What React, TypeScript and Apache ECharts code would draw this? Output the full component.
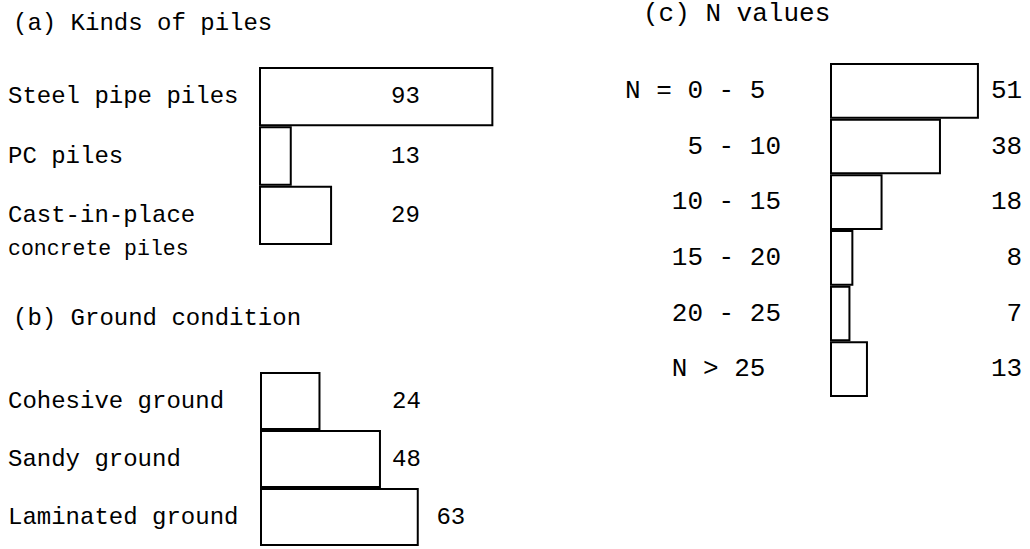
import React, { useEffect, useRef } from "react";
import * as echarts from "echarts";

const titles = ["(a) Kinds of piles", "(b) Ground condition", "(c) N values"];
const pileKinds = ["Steel pipe piles", "PC piles", "Cast-in-place\nconcrete piles"];
const pileCounts = [93, 13, 29];
const groundKinds = ["Cohesive ground", "Sandy ground", "Laminated ground"];
const groundCounts = [24, 48, 63];
const nRanges = ["N = 0 - 5", "5 - 10", "10 - 15", "15 - 20", "20 - 25", "N > 25"];
const nCounts = [51, 38, 18, 8, 7, 13];

const MONO = '"Liberation Mono", "Courier New", monospace';

export default function App() {
  const ref = useRef<HTMLDivElement>(null);

  useEffect(() => {
    if (!ref.current) return;
    const chart = echarts.init(ref.current, null, { renderer: "svg" });

    const labelColAB = 52.4;
    const labelColC = 65.8;
    const dashCol = nRanges[0].indexOf(" - ");

    const barSeries = (idx: number, data: number[]) => ({
      type: "bar",
      xAxisIndex: idx,
      yAxisIndex: idx,
      data,
      barWidth: "100%",
      itemStyle: { color: "#fff", borderColor: "#000", borderWidth: 2 },
      silent: true,
    });

    const labelSeries = (
      idx: number,
      data: number[],
      xOf: (v: number) => number,
      pos: string,
      fontSize: number
    ) => ({
      type: "scatter",
      xAxisIndex: idx,
      yAxisIndex: idx,
      symbolSize: 0,
      clip: false,
      silent: true,
      itemStyle: { opacity: 1 },
      data: data.map((v, i) => [xOf(v), i, v]),
      label: {
        show: true,
        position: pos,
        distance: 0,
        formatter: (p: any) => String(p.value[2]),
        fontFamily: MONO,
        fontSize,
        color: "#000",
        opacity: 1,
      },
    });

    const catAxis = (idx: number, data: string[], margin: number, fontSize: number, extra: any = {}) => ({
      type: "category",
      gridIndex: idx,
      data,
      inverse: true,
      axisLine: { show: false },
      axisTick: { show: false },
      splitLine: { show: false },
      axisLabel: {
        align: "left",
        margin,
        fontFamily: MONO,
        fontSize,
        color: "#000",
        ...extra,
      },
    });

    const valAxis = (idx: number, max: number) => ({
      type: "value",
      gridIndex: idx,
      min: 0,
      max,
      show: false,
    });

    chart.setOption({
      animation: false,
      backgroundColor: "#fff",
      title: [
        { text: titles[0], left: 8, top: 6, textStyle: { fontFamily: MONO, fontSize: 24, fontWeight: "normal", color: "#000" } },
        { text: titles[1], left: 8, top: 301, textStyle: { fontFamily: MONO, fontSize: 24, fontWeight: "normal", color: "#000" } },
        { text: titles[2], left: 638, top: -4, textStyle: { fontFamily: MONO, fontSize: 26, fontWeight: "normal", color: "#000" } },
      ],
      grid: [
        { left: 259, top: 67, width: 252, height: 178 },
        { left: 260, top: 372, width: 252, height: 174 },
        { left: 830, top: 63, width: 175.2, height: 334 },
      ],
      xAxis: [valAxis(0, 100), valAxis(1, 100), valAxis(2, 60)],
      yAxis: [
        catAxis(0, pileKinds, 251, 24, {
          formatter: (v: string) => {
            if (!v.includes("\n")) return v;
            const [l1, l2] = v.split("\n");
            return `{s| }\n{a|${l1}}\n{b|${l2}}`;
          },
          rich: {
            s: { lineHeight: 34, fontSize: 24, fontFamily: MONO },
            a: { lineHeight: 34, fontSize: 24, fontFamily: MONO, color: "#000" },
            b: { lineHeight: 34, fontSize: 21.5, fontFamily: MONO, color: "#000" },
          },
        }),
        catAxis(1, groundKinds, 252, 24),
        catAxis(2, nRanges, 205, 26, {
          formatter: (v: string) => {
            const i = v.indexOf(" - ");
            const pad = i >= 0 ? dashCol - i : dashCol - 2;
            return "\u00a0".repeat(Math.max(0, pad)) + v;
          },
        }),
      ],
      series: [
        barSeries(0, pileCounts),
        barSeries(1, groundCounts),
        barSeries(2, nCounts),
        labelSeries(0, pileCounts, () => labelColAB, "right", 24),
        labelSeries(
          1,
          groundCounts,
          (v) => (v + 4 > labelColAB ? v + 7 : labelColAB),
          "right",
          24
        ),
        labelSeries(2, nCounts, () => labelColC, "left", 26),
      ],
    });

    return () => chart.dispose();
  }, []);

  return (
    <div
      ref={ref}
      style={{ position: "fixed", left: 0, top: 0, width: 1030, height: 549, background: "#fff" }}
    />
  );
}
